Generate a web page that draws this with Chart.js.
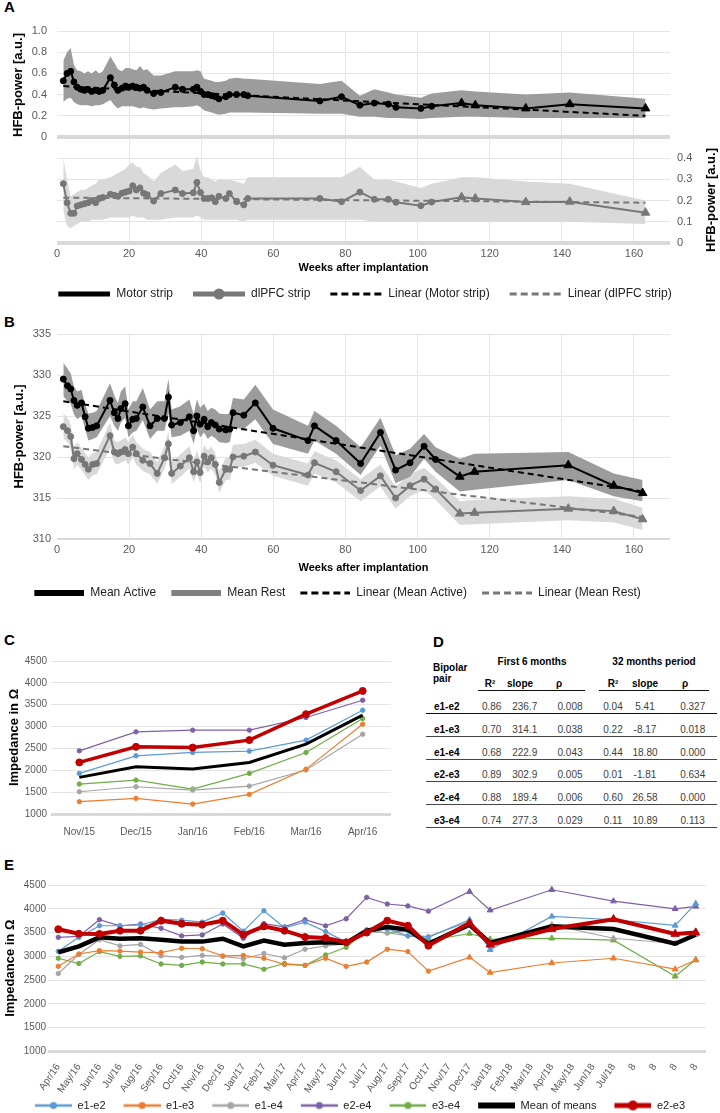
<!DOCTYPE html>
<html>
<head>
<meta charset="utf-8">
<title>HFB power and impedance over time</title>
<script src="https://cdn.jsdelivr.net/npm/chart.js@4"></script>
<style>
  html, body { margin: 0; padding: 0; overflow: hidden; background: #fff; }
  #page { position: relative; width: 720px; height: 1113px; overflow: hidden; font-family: 'Liberation Sans', Arial, sans-serif; }
  #page canvas { position: absolute; }
  .pl { position: absolute; font-size: 15px; font-weight: bold; line-height: 16px; color: #000; }
  .vt { position: absolute; font-size: 13px; font-weight: bold; line-height: 16px; color: #000; white-space: nowrap;
        transform: translate(-50%, -50%) rotate(-90deg); }
  .tx { position: absolute; font-size: 10px; line-height: 12px; white-space: nowrap; color: #404040; }
  .tx.c { transform: translateX(-50%); }
  .tx.b { font-weight: bold; color: #000; }
  .hl { position: absolute; height: 0; }
</style>
</head>
<body>
<div id="page">
  <div class="pl" style="left:4px;top:-1px">A</div>
  <div class="pl" style="left:4px;top:314px">B</div>
  <div class="pl" style="left:4px;top:632px">C</div>
  <div class="pl" style="left:433px;top:634px">D</div>
  <div class="pl" style="left:4px;top:857px">E</div>

  <canvas id="cA" width="720" height="310" style="left:0;top:0"></canvas>
  <div class="vt" style="left:18px;top:85px">HFB-power [a.u.]</div>
  <div class="vt" style="left:711px;top:200px">HFB-power [a.u.]</div>

  <canvas id="cB" width="720" height="299" style="left:0;top:310px"></canvas>
  <canvas id="cC" width="400" height="218" style="left:0;top:620px"></canvas>
  <div id="tableD"></div>
  <canvas id="cE" width="720" height="261" style="left:0;top:860px"></canvas>
</div>

<script>
// ---------- A: HFB power, motor strip (top) and dlPFC strip (bottom) ----------
const weeksA = [1.75, 2.8, 3.8, 4.7, 5.6, 6.6, 7.6, 8.6, 9.6, 10.7, 11.7, 12.7, 14.8, 15.9, 16.9, 18, 19, 20, 21, 22,
  23, 24, 25, 26.8, 28.8, 32.8, 34.8, 37.8, 38.8, 39.8, 40.8, 41.9, 42.9, 43.9, 44.9, 46.8, 47.8, 49.8, 51.8, 52.9,
  72.9, 78.9, 84, 88, 91.9, 94, 100.9, 103.9, 112.2, 116, 130, 142.2, 163.2];
const motorMean = [0.53, 0.60, 0.62, 0.52, 0.47, 0.45, 0.44, 0.45, 0.43, 0.44, 0.43, 0.44, 0.56, 0.49, 0.44, 0.46, 0.48, 0.47, 0.48, 0.47,
  0.46, 0.47, 0.44, 0.41, 0.42, 0.47, 0.45, 0.45, 0.47, 0.43, 0.40, 0.40, 0.39, 0.38, 0.36, 0.38, 0.40, 0.40, 0.40, 0.39,
  0.34, 0.38, 0.30, 0.32, 0.31, 0.28, 0.27, 0.29, 0.32, 0.30, 0.27, 0.31, 0.27];
const motorUpper = [0.72, 0.80, 0.84, 0.68, 0.63, 0.62, 0.60, 0.62, 0.60, 0.63, 0.60, 0.62, 0.76, 0.70, 0.64, 0.62, 0.65, 0.65, 0.64, 0.63,
  0.67, 0.63, 0.64, 0.58, 0.58, 0.62, 0.62, 0.62, 0.63, 0.62, 0.55, 0.54, 0.53, 0.52, 0.52, 0.53, 0.55, 0.56, 0.55, 0.55,
  0.50, 0.53, 0.39, 0.45, 0.42, 0.40, 0.37, 0.41, 0.44, 0.43, 0.40, 0.42, 0.36];
const motorLower = [0.33, 0.36, 0.37, 0.33, 0.31, 0.30, 0.30, 0.30, 0.29, 0.30, 0.30, 0.31, 0.35, 0.30, 0.27, 0.29, 0.29, 0.29, 0.29, 0.28,
  0.27, 0.28, 0.27, 0.26, 0.27, 0.28, 0.28, 0.29, 0.30, 0.28, 0.25, 0.24, 0.23, 0.22, 0.21, 0.22, 0.23, 0.23, 0.23, 0.23,
  0.22, 0.22, 0.19, 0.19, 0.18, 0.18, 0.17, 0.18, 0.19, 0.19, 0.18, 0.18, 0.18];
const dlpfcMean = [0.28, 0.19, 0.14, 0.14, 0.175, 0.18, 0.185, 0.19, 0.20, 0.19, 0.21, 0.215, 0.23, 0.225, 0.22, 0.235, 0.24, 0.245, 0.27, 0.25,
  0.26, 0.235, 0.228, 0.198, 0.233, 0.25, 0.233, 0.237, 0.286, 0.238, 0.21, 0.21, 0.213, 0.195, 0.22, 0.21, 0.233, 0.195, 0.18, 0.21,
  0.21, 0.195, 0.24, 0.206, 0.206, 0.192, 0.176, 0.193, 0.216, 0.21, 0.193, 0.195, 0.143];
const dlpfcUpper = [0.40, 0.30, 0.22, 0.23, 0.24, 0.25, 0.25, 0.26, 0.27, 0.28, 0.30, 0.30, 0.31, 0.32, 0.33, 0.34, 0.35, 0.37, 0.38, 0.36,
  0.36, 0.33, 0.32, 0.29, 0.33, 0.37, 0.34, 0.35, 0.41, 0.34, 0.31, 0.31, 0.30, 0.29, 0.30, 0.30, 0.30, 0.29, 0.28, 0.31,
  0.31, 0.31, 0.36, 0.30, 0.30, 0.29, 0.26, 0.28, 0.31, 0.31, 0.29, 0.28, 0.20];
const dlpfcLower = [0.15, 0.08, 0.07, 0.08, 0.09, 0.10, 0.10, 0.10, 0.11, 0.11, 0.11, 0.11, 0.12, 0.12, 0.12, 0.12, 0.12, 0.12, 0.13, 0.12,
  0.12, 0.12, 0.11, 0.11, 0.11, 0.12, 0.12, 0.12, 0.13, 0.12, 0.11, 0.11, 0.11, 0.11, 0.11, 0.11, 0.11, 0.11, 0.10, 0.11,
  0.11, 0.11, 0.11, 0.10, 0.10, 0.10, 0.10, 0.10, 0.10, 0.10, 0.10, 0.10, 0.09];
const trendWeeksA = [1.75, 163.2];
const motorTrend = [0.48, 0.20];
const dlpfcTrend = [0.214, 0.19];

// ---------- B: mean active vs rest ----------
const weeksB = [1.75, 2.9, 3.8, 4.7, 5.6, 6.8, 7.8, 8.7, 9.9, 11, 14.7, 15.9, 16.9, 17.7, 18.9, 19.8, 21, 22, 23.8, 25.8,
  27.8, 29.8, 30.9, 31.8, 34.2, 36.7, 37.9, 38.8, 39.7, 40.8, 41.8, 42.8, 43.9, 45, 46.8, 47.9, 48.8, 51.8, 55, 59.9,
  69.6, 71.4, 77.4, 84.2, 89.7, 93.9, 97.9, 101.8, 105, 111.7, 115.8, 141.8, 154.4, 162.4];
const activeMean = [329.5, 328.7, 328.3, 326.9, 326.3, 326.6, 324.9, 323.5, 323.6, 323.8, 326.9, 325.4, 324.7, 325.9, 326.5, 323.8, 324.6, 324.7, 326.1, 323.8,
  324.7, 324.7, 327.3, 323.9, 324.2, 324.9, 323.2, 325.0, 324.0, 324.6, 323.7, 324.2, 323.9, 323.4, 323.3, 323.4, 325.4, 325.1, 326.6, 323.5,
  322.0, 323.8, 322.0, 319.2, 323.0, 318.4, 319.3, 321.3, 319.7, 317.6, 318.2, 319.0, 316.5, 315.6];
const activeUpper = [331.5, 330.8, 330.2, 328.6, 328.0, 328.2, 326.4, 325.3, 325.4, 325.6, 329.0, 327.5, 326.6, 328.0, 328.6, 325.8, 326.8, 326.8, 328.4, 325.8,
  326.8, 326.8, 329.5, 325.8, 326.2, 327.0, 325.2, 327.0, 326.0, 326.5, 325.6, 326.0, 325.8, 325.3, 325.2, 325.3, 327.2, 327.0, 328.8, 325.8,
  323.8, 325.6, 323.8, 321.2, 324.8, 320.2, 321.0, 322.8, 321.2, 319.8, 320.4, 320.6, 318.0, 317.2];
const activeLower = [327.4, 326.8, 326.5, 325.2, 324.6, 325.0, 323.4, 322.0, 322.2, 322.4, 325.0, 323.8, 323.2, 324.2, 324.8, 322.4, 323.0, 323.2, 324.5, 322.2,
  323.2, 323.2, 325.3, 322.4, 322.6, 323.2, 321.6, 323.4, 322.4, 323.0, 322.2, 322.6, 322.3, 321.8, 321.7, 321.8, 323.6, 323.4, 324.6, 321.6,
  320.4, 322.0, 320.4, 317.8, 321.4, 316.8, 317.6, 319.8, 318.2, 315.8, 316.0, 317.2, 315.2, 314.6];
const restMean = [323.7, 323.2, 322.5, 319.8, 320.4, 319.7, 319.1, 318.5, 319.1, 319.2, 322.6, 320.6, 320.4, 320.6, 320.9, 320.4, 321.2, 320.4, 319.6, 319.2,
  318.0, 319.9, 321.6, 318.0, 318.9, 319.9, 318.2, 319.4, 318.1, 320.1, 319.4, 319.9, 319.1, 316.9, 318.5, 318.5, 320.0, 320.1, 320.6, 319.0,
  317.8, 319.3, 318.2, 315.9, 317.7, 315.0, 316.5, 317.3, 316.1, 313.1, 313.2, 313.7, 313.4, 312.4];
const restUpper = [325.3, 324.8, 324.0, 321.2, 321.8, 321.1, 320.5, 319.9, 320.5, 320.6, 324.2, 322.0, 321.8, 322.0, 322.4, 321.8, 322.7, 321.8, 321.0, 320.6,
  319.4, 321.3, 323.1, 319.4, 320.3, 321.3, 319.6, 320.8, 319.5, 321.5, 320.8, 321.3, 320.5, 318.3, 319.9, 319.9, 321.5, 321.6, 322.1, 320.4,
  319.2, 320.7, 319.6, 317.3, 319.1, 316.4, 317.9, 318.7, 317.5, 314.6, 314.8, 315.2, 314.9, 313.8];
const restLower = [322.3, 321.8, 321.1, 318.5, 319.1, 318.4, 317.8, 317.2, 317.8, 317.9, 321.1, 319.3, 319.1, 319.3, 319.6, 319.1, 319.9, 319.1, 318.3, 317.9,
  316.7, 318.6, 320.2, 316.7, 317.6, 318.6, 316.9, 318.1, 316.8, 318.8, 318.1, 318.6, 317.8, 315.6, 317.2, 317.2, 318.7, 318.8, 319.3, 317.7,
  316.5, 318.0, 316.9, 314.6, 316.4, 313.7, 315.2, 316.0, 314.8, 311.7, 311.8, 312.3, 312.0, 311.1];
const trendWeeksB = [1.75, 162.4];
const activeTrend = [326.8, 315.8];
const restTrend = [321.3, 312.7];

// ---------- C: impedance, first 6 months ----------
const catsC = ['Nov/15', 'Dec/15', 'Jan/16', 'Feb/16', 'Mar/16', 'Apr/16'];
const cE12 = [1929, 2331, 2408, 2438, 2690, 3374];
const cE13 = [1281, 1358, 1228, 1449, 2027, 3055];
const cE14 = [1509, 1623, 1548, 1639, 2005, 2826];
const cE24 = [2445, 2879, 2918, 2918, 3208, 3603];
const cE34 = [1685, 1776, 1571, 1929, 2408, 3184];
const cMean = [1838, 2080, 2027, 2180, 2598, 3260];
const cE23 = [2180, 2537, 2520, 2690, 3283, 3815];

// ---------- D: regression table ----------
const pairsD = ['e1-e2', 'e1-e3', 'e1-e4', 'e2-e3', 'e2-e4', 'e3-e4'];
const r2First = ['0.86', '0.70', '0.68', '0.89', '0.88', '0.74'];
const slopeFirst = ['236.7', '314.1', '222.9', '302.9', '189.4', '277.3'];
const pFirst = ['0.008', '0.038', '0.043', '0.005', '0.006', '0.029'];
const r2Long = ['0.04', '0.22', '0.44', '0.01', '0.60', '0.11'];
const slopeLong = ['5.41', '-8.17', '18.80', '-1.81', '26.58', '10.89'];
const pLong = ['0.327', '0.018', '0.000', '0.634', '0.000', '0.113'];
const subHeads = ['R²', 'slope', 'ρ', 'R²', 'slope', 'ρ'];

// ---------- E: impedance, whole period ----------
const catsE = ['Apr/16', 'May/16', 'Jun/16', 'Jul/16', 'Aug/16', 'Sep/16', 'Oct/16', 'Nov/16', 'Dec/16', 'Jan/17',
  'Feb/17', 'Mar/17', 'Apr/17', 'May/17', 'Jun/17', 'Jul/17', 'Aug/17', 'Sep/17', 'Oct/17', 'Nov/17',
  'Dec/17', 'Jan/18', 'Feb/18', 'Mar/18', 'Apr/18', 'May/18', 'Jun/18', 'Jul/18', '8', '8', '8', '8'];
const eE12 = [3106, 3399, 3643, 3643, 3660, 3780, 3760, 3720, 3910, 3530, 3960, 3600, 3720, 3520, 3300, 3560, 3580, 3430, 3400, null,
  3770, 3140, null, null, 3840, null, null, 3770, null, null, 3650, 4110];
const eE13 = [2790, 3050, 3120, 3110, 3090, 3080, 3170, 3160, 3010, 3020, 2960, 2830, 2810, 2960, 2790, 2880, 3150, 3100, 2690, null,
  2980, 2660, null, null, 2860, null, null, 2960, null, null, 2730, 2920];
const eE14 = [2640, 3040, 3350, 3220, 3250, 3010, 2980, 3020, 3000, 2950, 3060, 2970, 3150, 3220, 3260, 3520, 3500, 3430, 3420, null,
  3730, 3240, null, null, 3660, null, null, 3380, null, null, 3270, 3460];
const eE24 = [3400, 3420, 3770, 3640, 3680, 3590, 3430, 3450, 3680, 3380, 3690, 3620, 3770, 3640, 3790, 4240, 4100, 4060, 3950, null,
  4360, 3970, null, null, 4400, null, null, 4160, null, null, 4000, 4050];
const eE34 = [2960, 2850, 3100, 3000, 3010, 2840, 2810, 2880, 2840, 2840, 2730, 2850, 2810, 3030, 3190, 3540, 3490, 3550, 3330, null,
  3480, 3360, null, null, 3380, null, null, 3340, null, null, 2580, 2930];
const eMean = [3085, 3210, 3400, 3370, 3380, 3350, 3310, 3310, 3370, 3210, 3330, 3245, 3280, 3295, 3280, 3540, 3615, 3560, 3265, null,
  3665, 3280, null, null, 3630, null, null, 3575, null, null, 3265, 3455];
const eE23 = [3570, 3475, 3470, 3540, 3540, 3750, 3685, 3665, 3750, 3455, 3630, 3540, 3405, 3385, 3295, 3500, 3750, 3645, 3225, null,
  3700, 3245, null, null, 3575, null, null, 3780, null, null, 3470, 3500];

// ---------- styling ----------
const GRID = '#e4e4e4';
const BASE = '#d9d9d9';
const DARK_BAND = '#9c9c9c';
const LIGHT_BAND = '#d9d9d9';
const REST = '#777777';
const BLUE = '#5b9bd5', ORANGE = '#ed7d31', GREY = '#a5a5a5', PURPLE = '#7f5fa8', GREEN = '#70ad47', RED = '#c00000';

Chart.defaults.font.family = "'Liberation Sans', Arial, sans-serif";
Chart.defaults.font.size = 11;
Chart.defaults.color = '#595959';
Chart.defaults.animation = false;
Chart.defaults.responsive = false;
Chart.defaults.plugins.tooltip.enabled = false;

function pts(xs, ys) {
  return xs.map((x, i) => ({ x: x, y: ys[i] }));
}

// small picture of a legend line (blank lead on the left keeps items apart)
function sampleImg(lead, len, color, lw, dash, mr) {
  const c = document.createElement('canvas');
  c.width = lead + len;
  c.height = 16;
  const g = c.getContext('2d');
  g.strokeStyle = color;
  g.lineWidth = lw;
  g.setLineDash(dash);
  g.beginPath();
  g.moveTo(lead, 8);
  g.lineTo(lead + len, 8);
  g.stroke();
  if (mr) {
    g.setLineDash([]);
    g.fillStyle = color;
    g.beginPath();
    g.arc(lead + len / 2, 8, mr, 0, Math.PI * 2);
    g.fill();
  }
  return c;
}

function legendCfg(size, pad, boxW) {
  return {
    position: 'bottom',
    labels: {
      usePointStyle: true,
      pointStyleWidth: boxW,
      padding: pad,
      color: '#222',
      font: { size: size },
      generateLabels(chart) {
        return Chart.defaults.plugins.legend.labels.generateLabels(chart).map(it => {
          const ds = chart.data.datasets[it.datasetIndex];
          if (ds.legendImg) it.pointStyle = ds.legendImg;
          return it;
        });
      },
      filter: (it, data) => !!data.datasets[it.datasetIndex].legendImg,
      sort: (a, b, data) => data.datasets[a.datasetIndex].legendRank - data.datasets[b.datasetIndex].legendRank
    }
  };
}

function weeksAxis(h, titlePad) {
  return {
    type: 'linear', min: 0, max: 170,
    ticks: { stepSize: 20, includeBounds: false, padding: 4, font: { size: 11 } },
    grid: { drawTicks: false, color: c => (c.tick && c.tick.value === 0) ? 'rgba(0,0,0,0)' : GRID },
    border: { display: false },
    title: { display: true, text: 'Weeks after implantation', color: '#000',
             font: { size: 11, weight: 'bold' }, padding: { top: 0, bottom: titlePad } },
    afterFit: s => { s.height = h; }
  };
}

function band(xs, ys, axis, fillColor, isLower) {
  return {
    data: pts(xs, ys), yAxisID: axis, borderWidth: 0, pointRadius: 0,
    borderColor: 'rgba(0,0,0,0)', backgroundColor: fillColor, fill: isLower ? '-1' : false
  };
}

function meanLine(label, xs, ys, axis, color, rank, img, triFrom) {
  const tri = c => xs[c.dataIndex] > triFrom;
  return {
    label: label, data: pts(xs, ys), yAxisID: axis,
    borderColor: color, backgroundColor: color, borderWidth: 2,
    pointStyle: c => tri(c) ? 'triangle' : 'circle',
    pointRadius: c => tri(c) ? 5 : 3,
    pointBorderWidth: 1,
    legendRank: rank, legendImg: img
  };
}

function trendLine(label, xs, ys, axis, color, rank, img) {
  return {
    label: label, data: pts(xs, ys), yAxisID: axis,
    borderColor: color, borderWidth: 2, borderDash: [6, 4], pointRadius: 0,
    legendRank: rank, legendImg: img
  };
}

// ---------- chart A ----------
new Chart(document.getElementById('cA'), {
  type: 'line',
  data: {
    datasets: [
      meanLine('Motor strip', weeksA, motorMean, 'y', '#000', 0, sampleImg(10, 52, '#000', 5, [], 0), 110),
      meanLine('dlPFC strip', weeksA, dlpfcMean, 'y2', REST, 1, sampleImg(10, 52, REST, 5, [], 5.5), 110),
      trendLine('Linear (Motor strip)', trendWeeksA, motorTrend, 'y', '#000', 2, sampleImg(10, 52, '#000', 3, [7, 4], 0)),
      trendLine('Linear (dlPFC strip)', trendWeeksA, dlpfcTrend, 'y2', REST, 3, sampleImg(10, 52, REST, 3, [7, 4], 0)),
      band(weeksA, motorUpper, 'y', DARK_BAND, false),
      band(weeksA, motorLower, 'y', DARK_BAND, true),
      band(weeksA, dlpfcUpper, 'y2', LIGHT_BAND, false),
      band(weeksA, dlpfcLower, 'y2', LIGHT_BAND, true)
    ]
  },
  options: {
    layout: { padding: { top: 31, left: 0, right: 0, bottom: 0 } },
    plugins: { legend: legendCfg(12, 10, 62) },
    scales: {
      x: weeksAxis(35, 3),
      y: {
        position: 'left', min: -1, max: 1,
        ticks: { stepSize: 0.2, padding: 10,
                 callback: v => v < -0.001 ? null : (Math.abs(v) < 0.001 ? '0' : v.toFixed(1)) },
        grid: { drawTicks: false,
                color: c => Math.abs(c.tick.value) < 0.001 ? BASE : GRID,
                lineWidth: c => Math.abs(c.tick.value) < 0.001 ? 4 : 1 },
        border: { display: false },
        afterFit: s => { s.width = 57; }
      },
      y2: {
        position: 'right', min: 0, max: 1,
        ticks: { stepSize: 0.1, padding: 7,
                 callback: v => v > 0.401 ? null : (v < 0.001 ? '0' : v.toFixed(1)) },
        grid: { drawTicks: false,
                color: c => c.tick.value < 0.001 ? BASE : GRID,
                lineWidth: c => c.tick.value < 0.001 ? 4 : 1 },
        border: { display: false },
        afterFit: s => { s.width = 50; }
      }
    }
  }
});

// ---------- chart B ----------
new Chart(document.getElementById('cB'), {
  type: 'line',
  data: {
    datasets: [
      meanLine('Mean Active', weeksB, activeMean, 'y', '#000', 0, sampleImg(5, 50, '#000', 6, [], 0), 110),
      meanLine('Mean Rest', weeksB, restMean, 'y', REST, 1, sampleImg(5, 50, '#808080', 6, [], 0), 110),
      trendLine('Linear (Mean Active)', trendWeeksB, activeTrend, 'y', '#000', 2, sampleImg(5, 50, '#000', 3, [7, 4], 0)),
      trendLine('Linear (Mean Rest)', trendWeeksB, restTrend, 'y', REST, 3, sampleImg(5, 50, REST, 3, [7, 4], 0)),
      band(weeksB, activeUpper, 'y', DARK_BAND, false),
      band(weeksB, activeLower, 'y', DARK_BAND, true),
      band(weeksB, restUpper, 'y', LIGHT_BAND, false),
      band(weeksB, restLower, 'y', LIGHT_BAND, true)
    ]
  },
  options: {
    layout: { padding: { top: 24, left: 0, right: 50, bottom: 0 } },
    plugins: { legend: legendCfg(12, 10, 55) },
    scales: {
      x: weeksAxis(38, 2),
      y: {
        min: 310, max: 335,
        ticks: { stepSize: 5, padding: 6 },
        grid: { drawTicks: false,
                color: c => c.tick.value === 310 ? BASE : GRID,
                lineWidth: c => c.tick.value === 310 ? 2 : 1 },
        border: { display: false },
        title: { display: true, text: 'HFB-power [a.u.]', color: '#000',
                 font: { size: 13, weight: 'bold' }, padding: { top: 12, bottom: 0 } },
        afterFit: s => { s.width = 57; }
      }
    }
  }
});

// ---------- impedance charts C and E ----------
function impSet(label, data, color, width, r, rank, img, triFrom) {
  return {
    label: label, data: data, borderColor: color, backgroundColor: color, borderWidth: width,
    pointRadius: c => r === 0 ? 0 : (c.dataIndex >= triFrom ? r + 1.2 : r),
    pointStyle: c => c.dataIndex >= triFrom ? 'triangle' : 'circle',
    pointBorderWidth: 1, spanGaps: true,
    legendRank: rank, legendImg: img
  };
}

function impY(width, titlePad, labelPad) {
  return {
    min: 1000, max: 4500,
    ticks: { stepSize: 500, padding: labelPad, font: { size: 10 }, callback: v => String(v) },
    grid: { drawTicks: false,
            color: c => c.tick.value === 1000 ? BASE : GRID,
            lineWidth: c => c.tick.value === 1000 ? 3 : 1 },
    border: { display: false },
    title: { display: true, text: 'Impedance in Ω', color: '#000',
             font: { size: 13, weight: 'bold' }, padding: { top: titlePad, bottom: 0 } },
    afterFit: s => { s.width = width; }
  };
}

new Chart(document.getElementById('cC'), {
  type: 'line',
  data: {
    labels: catsC,
    datasets: [
      impSet('e2-e3', cE23, RED, 3.5, 3.5, 6, null, 99),
      impSet('Mean of means', cMean, '#000', 3, 0, 5, null, 99),
      impSet('e1-e2', cE12, BLUE, 1.2, 2.2, 0, null, 99),
      impSet('e1-e3', cE13, ORANGE, 1.2, 2.2, 1, null, 99),
      impSet('e1-e4', cE14, GREY, 1.2, 2.2, 2, null, 99),
      impSet('e2-e4', cE24, PURPLE, 1.2, 2.2, 3, null, 99),
      impSet('e3-e4', cE34, GREEN, 1.2, 2.2, 4, null, 99)
    ]
  },
  options: {
    layout: { padding: { top: 41, left: 0, right: 9, bottom: 0 } },
    plugins: { legend: { display: false } },
    scales: {
      x: {
        type: 'category', offset: true,
        ticks: { padding: 4, font: { size: 10 }, autoSkip: false, maxRotation: 0 },
        grid: { display: false }, border: { display: false },
        afterFit: s => { s.height = 24; }
      },
      y: impY(51, 7, 4)
    }
  }
});

new Chart(document.getElementById('cE'), {
  type: 'line',
  data: {
    labels: catsE,
    datasets: [
      impSet('e2-e3', eE23, RED, 4, 3.5, 6, sampleImg(14, 37, RED, 5, [], 5), 20),
      impSet('Mean of means', eMean, '#000', 4.5, 0, 5, sampleImg(14, 37, '#000', 6, [], 0), 20),
      impSet('e1-e2', eE12, BLUE, 1.2, 2.2, 0, sampleImg(14, 37, BLUE, 2.5, [], 3.5), 20),
      impSet('e1-e3', eE13, ORANGE, 1.2, 2.2, 1, sampleImg(14, 37, ORANGE, 2.5, [], 3.5), 20),
      impSet('e1-e4', eE14, GREY, 1.2, 2.2, 2, sampleImg(14, 37, GREY, 2.5, [], 3.5), 20),
      impSet('e2-e4', eE24, PURPLE, 1.2, 2.2, 3, sampleImg(14, 37, PURPLE, 2.5, [], 3.5), 20),
      impSet('e3-e4', eE34, GREEN, 1.2, 2.2, 4, sampleImg(14, 37, GREEN, 2.5, [], 3.5), 20)
    ]
  },
  options: {
    layout: { padding: { top: 25, left: 0, right: 14, bottom: 0 } },
    plugins: { legend: legendCfg(11, 4, 51) },
    scales: {
      x: {
        type: 'category', offset: true,
        ticks: { padding: 2, font: { size: 10 }, autoSkip: false, minRotation: 55, maxRotation: 55 },
        grid: { display: false }, border: { display: false },
        afterFit: s => { s.height = 44.5; }
      },
      y: impY(48, 3, 2)
    }
  }
});

// ---------- table D ----------
const tableD = document.getElementById('tableD');
function addText(text, x, yc, centered, bold) {
  const d = document.createElement('div');
  d.className = 'tx' + (centered ? ' c' : '') + (bold ? ' b' : '');
  d.style.left = x + 'px';
  d.style.top = (yc - 6) + 'px';
  d.textContent = text;
  tableD.appendChild(d);
}
function addRule(x1, x2, y, color) {
  const d = document.createElement('div');
  d.className = 'hl';
  d.style.left = x1 + 'px';
  d.style.width = (x2 - x1) + 'px';
  d.style.top = y + 'px';
  d.style.borderTop = '1.5px solid ' + color;
  tableD.appendChild(d);
}

addText('Bipolar', 433, 668, false, true);
addText('pair', 433, 679, false, true);
addText('First 6 months', 532, 662, true, true);
addText('32 months period', 654, 662, true, true);
const headX = [490, 520, 559, 613, 645, 685];
subHeads.forEach((h, k) => addText(h, headX[k], 684, true, true));
addRule(478, 585, 690, '#111');
addRule(599, 709, 690, '#111');

const colX = [491.7, 524.7, 570, 613, 645, 692.7];
const colsD = [r2First, slopeFirst, pFirst, r2Long, slopeLong, pLong];
pairsD.forEach((p, i) => {
  const y = 707.3 + i * 22.7;
  addText(p, 434, y, false, true);
  colsD.forEach((col, k) => addText(col[i], colX[k], y, true, false));
  addRule(426, 717, y + 6, i === 0 ? '#111' : '#444');
});
</script>
</body>
</html>
